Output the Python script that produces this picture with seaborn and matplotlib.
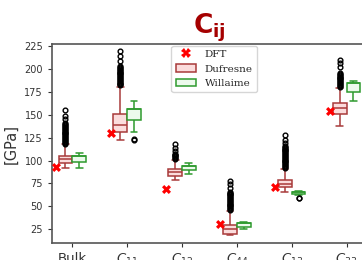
import numpy as np
import pandas as pd
import matplotlib.pyplot as plt
from matplotlib.lines import Line2D
from matplotlib.patches import Patch
import seaborn as sns

categories = ["Bulk", "$C_{11}$", "$C_{12}$", "$C_{44}$", "$C_{13}$", "$C_{33}$"]
sources = ["Dufresne", "Willaime"]

# DFT reference values [GPa]
dft = [93.3, 130.5, 69.3, 30.5, 71.5, 154.5]

# box summaries: (whisker low, Q1, median, Q3, whisker high)
dufresne_stats = [
    (91.5, 97.0, 101.5, 105.3, 117.5),
    (122.0, 131.0, 139.0, 151.0, 180.5),
    (78.5, 83.5, 87.2, 90.5, 100.5),
    (18.8, 20.3, 25.5, 30.0, 44.5),
    (66.0, 71.0, 74.5, 79.0, 90.8),
    (138.0, 151.0, 157.0, 162.6, 179.5),
]
dufresne_fliers = [
    [118.5, 119.5, 120.5, 121.5, 122.5, 123.5, 124.5, 125.5, 126.5, 127.5, 128.5, 129.5, 130.5, 131.5,
     132.5, 133.5, 134.5, 135.5, 136.5, 137.5, 138.5, 139.5, 140.5, 145, 149, 155],
    [182, 183, 184, 185, 186, 187, 188, 189, 190, 191, 192, 193, 194, 195, 196, 197, 198, 199, 200,
     201, 202, 203, 208, 213.5, 219],
    [101.5, 102.5, 103.5, 104.5, 105.5, 106.5, 107.5, 110.5, 113.5, 118.5],
    [46, 47, 48, 49, 50, 51, 52, 53, 54, 55, 56, 57, 58, 59, 60, 61, 62, 63, 64, 65, 66, 70.5, 74, 77.5],
    [92, 93, 94, 95, 96, 97, 98, 99, 100, 101, 102, 103, 104, 105, 106, 107, 108, 109, 110, 111, 112,
     113, 114, 115, 116, 119, 122.5, 128],
    [180.5, 181.5, 182.5, 183.5, 184.5, 185.5, 186.5, 187.5, 188.5, 189.5, 190.5, 191.5, 192.5,
     193.5, 194.5, 195.5, 202.5, 206, 210],
]
willaime_stats = [
    (92.3, 98.8, 105.3, 105.3, 108.6),
    (131.0, 144.5, 156.5, 156.5, 165.0),
    (85.4, 89.7, 94.4, 94.4, 97.0),
    (25.3, 27.8, 31.5, 31.5, 32.5),
    (62.5, 63.5, 66.0, 66.0, 67.2),
    (165.4, 175.2, 184.4, 184.4, 187.0),
]
willaime_fliers = [[], [124, 122], [], [], [59.5, 58.8], []]

duf_face, duf_edge = "#fbdcdc", "#a83a3a"
wil_face, wil_edge = "#ecfaec", "#2e9a2e"


def expand(stats, fliers, k=40):
    # repeat the summary values so the box statistics come out as read
    lo, q1, med, q3, hi = stats
    return [lo] + [q1] * k + [med] * k + [q3] * k + [hi] + list(fliers)


rows = []
for name, all_stats, all_fliers in [("Dufresne", dufresne_stats, dufresne_fliers),
                                     ("Willaime", willaime_stats, willaime_fliers)]:
    for cat, st, fl in zip(categories, all_stats, all_fliers):
        for v in expand(st, fl):
            rows.append((cat, name, v))
df = pd.DataFrame(rows, columns=["cij", "source", "value"])

sns.set_style("ticks")

fig = plt.figure(figsize=(3.62, 2.6), dpi=100)
ax = fig.add_axes([0.1436, 0.064, 0.870, 0.7665])

palette = {"Dufresne": duf_face, "Willaime": wil_face}
sns.boxplot(data=df, x="cij", y="value", hue="source",
            order=categories, hue_order=sources, palette=palette,
            saturation=1, linecolor=duf_edge, linewidth=1.1, width=0.5, gap=0,
            flierprops=dict(marker="o", markerfacecolor="none",
                            markeredgecolor="black", markersize=3.4,
                            markeredgewidth=1.0),
            legend=False, ax=ax)

# edge colour per source (one container per hue level)
box_containers = [c for c in ax.containers if hasattr(c, "boxes")]
for cont, edge in zip(box_containers, [duf_edge, wil_edge]):
    for b in cont.boxes:
        b.set_edgecolor(edge)
    for ln in list(cont.whiskers) + list(cont.caps) + list(cont.medians):
        ln.set_color(edge)

sns.scatterplot(x=np.arange(len(categories)) - 0.3, y=dft, marker="X",
                color="red", s=42, linewidth=0, zorder=5, ax=ax)

ax.set_xlim(-0.37, 5.37)
ax.set_ylim(9.7, 227)
ax.set_yticks(np.arange(25, 226, 25))
ax.set_xticks(range(len(categories)))
ax.set_xticklabels(categories)
ax.tick_params(axis="y", labelsize=7, colors="#333333", length=3)
ax.tick_params(axis="x", labelsize=9.5, colors="#333333", length=3)
ax.set_xlabel("")
ax.set_ylabel("[GPa]", fontsize=10.5, color="#333333")
for side in ["left", "bottom", "top"]:
    ax.spines[side].set_color("#555555")
    ax.spines[side].set_linewidth(1.2)

ax.set_title(r"$\mathbf{C_{ij}}$", color="#a50000", fontsize=19, pad=6)

handles = [Line2D([], [], marker="X", color="red", linestyle="none",
                  markersize=6.5, markeredgewidth=0),
           Patch(facecolor=duf_face, edgecolor=duf_edge, linewidth=1.1),
           Patch(facecolor=wil_face, edgecolor=wil_edge, linewidth=1.1)]
ax.legend(handles, ["DFT", "Dufresne", "Willaime"], loc="upper center",
          bbox_to_anchor=(0.515, 1.0), borderaxespad=0.15,
          prop={"family": "DejaVu Serif", "size": 7.5})

fig.savefig("out.png", dpi=100)
